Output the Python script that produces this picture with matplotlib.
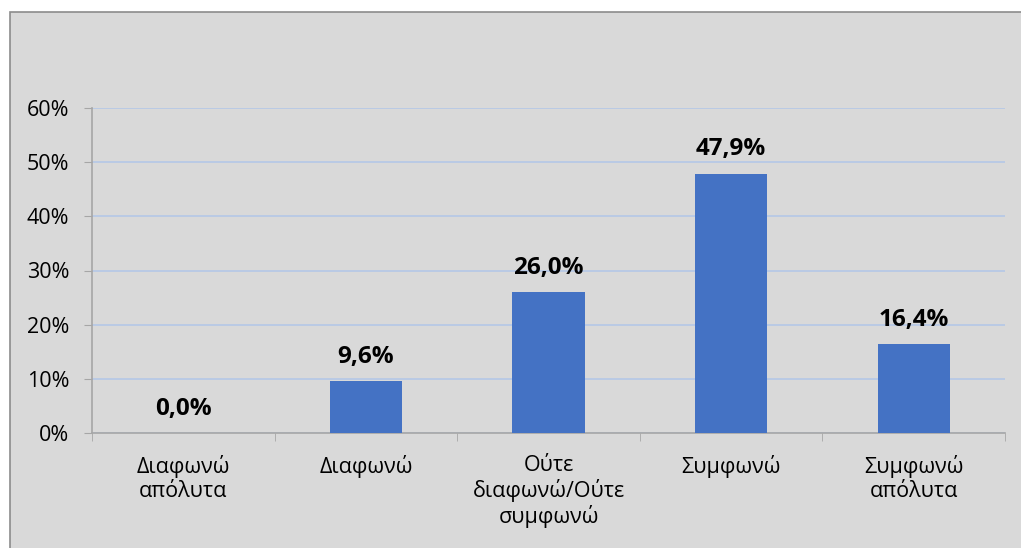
import numpy as np
import matplotlib.pyplot as plt
from matplotlib.patches import Rectangle
from matplotlib.ticker import PercentFormatter

categories = [
    "Διαφωνώ\nαπόλυτα",
    "Διαφωνώ",
    "Ούτε\nδιαφωνώ/Ούτε\nσυμφωνώ",
    "Συμφωνώ",
    "Συμφωνώ\nαπόλυτα",
]
shares = [0.0, 9.6, 26.0, 47.9, 16.4]
y_ticks = [0, 10, 20, 30, 40, 50, 60]

bg_color = "#D9D9D9"
bar_color = "#4472C4"
grid_color = "#B4C7E7"
axis_color = "#A6A6A6"

plt.rcParams["font.family"] = ["Open Sans", "DejaVu Sans"]

fig = plt.figure(figsize=(10.21, 5.48), dpi=100)
fig.patch.set_facecolor("white")

# grey chart frame, offset from the top-left like the original export
frame = Rectangle(
    (10 / 1021, -0.01), 1.02, 1 - 12 / 548 + 0.01,
    transform=fig.transFigure, facecolor=bg_color,
    edgecolor="#8C8C8C", linewidth=1.2, zorder=-10,
)
fig.patches.append(frame)

ax = fig.add_axes([92 / 1021, 1 - 433 / 548, 913 / 1021, 325 / 548])
ax.set_facecolor(bg_color)

x = np.arange(len(categories))
ax.bar(x, shares, width=0.395, color=bar_color, zorder=3)

for xi, val in zip(x, shares):
    ax.annotate(
        f"{val:.1f}%".replace(".", ","),
        (xi, val),
        xytext=(0, 9),
        textcoords="offset points",
        ha="center",
        va="bottom",
        fontsize=17.5,
        fontweight="bold",
        color="black",
    )

ax.set_xlim(-0.5, len(categories) - 0.5)
ax.set_ylim(0, 60)
ax.set_yticks(y_ticks)
ax.yaxis.set_major_formatter(PercentFormatter(decimals=0))
ax.yaxis.grid(True, color=grid_color, linewidth=1.2, zorder=0)
ax.set_axisbelow(True)

ax.set_xticks(x)
ax.set_xticklabels(categories, fontsize=15.5, linespacing=1.17)
ax.set_xticks(np.arange(-0.5, len(categories)), minor=True)
ax.tick_params(axis="x", which="major", length=0, pad=16)
ax.tick_params(axis="x", which="minor", length=5.5, color=axis_color, direction="out")
ax.tick_params(axis="y", length=5.5, color=axis_color, labelsize=15.5, pad=11)

for side in ["top", "right"]:
    ax.spines[side].set_visible(False)
for side in ["left", "bottom"]:
    ax.spines[side].set_color(axis_color)
    ax.spines[side].set_linewidth(1.2)

fig.savefig("out.png", dpi=100, facecolor=fig.get_facecolor())
